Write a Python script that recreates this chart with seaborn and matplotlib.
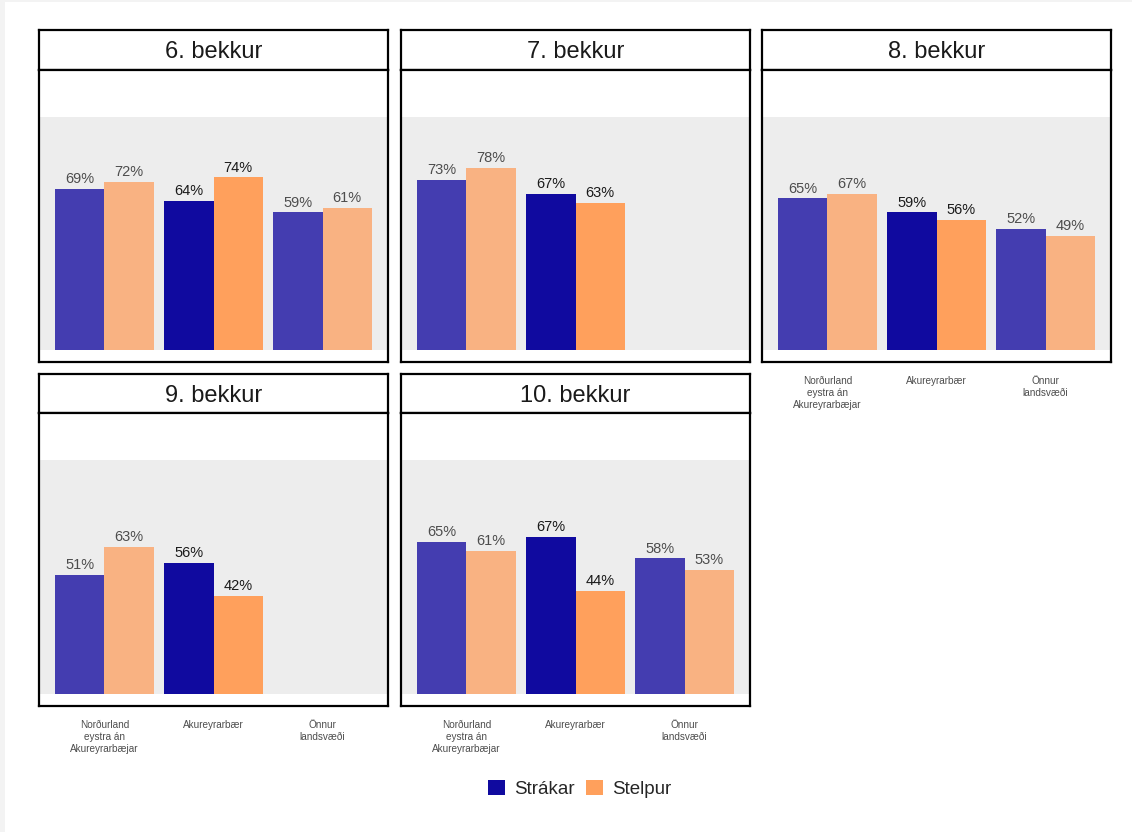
import matplotlib
matplotlib.use("Agg")
import matplotlib.pyplot as plt
from matplotlib.patches import Rectangle, Patch
import numpy as np
import pandas as pd
import seaborn as sns

# data (percent, boys / girls per region and grade)
grades = ["6. bekkur", "7. bekkur", "8. bekkur", "9. bekkur", "10. bekkur"]
regions = ["Norðurland\neystra án\nAkureyrarbæjar", "Akureyrarbær", "Önnur\nlandsvæði"]
genders = ["Strákar", "Stelpur"]
strakar = [[69, 64, 59], [73, 67, None], [65, 59, 52], [51, 56, None], [65, 67, 58]]
stelpur = [[72, 74, 61], [78, 63, None], [67, 56, 49], [63, 42, None], [61, 44, 53]]

dark = {"Strákar": "#100a9f", "Stelpur": "#ffa05c"}
light = {"Strákar": "#443db0", "Stelpur": "#f9b282"}
highlight = "Akureyrarbær"

rows = []
for g, grade in enumerate(grades):
    for r, region in enumerate(regions):
        for gender, vals in zip(genders, [strakar, stelpur]):
            v = vals[g][r]
            if v is not None:
                rows.append({"grade": grade, "region": region, "gender": gender, "value": v / 100})
df = pd.DataFrame(rows)

sns.set_style("white")
plt.rcParams["font.family"] = ["Liberation Sans", "DejaVu Sans"]

W, H = 1132, 832
fig = plt.figure(figsize=(W / 100, H / 100), dpi=100)
fig.patch.set_facecolor("#f3f3f3")
fig.patches.append(Rectangle((5 / W, 0), 1, 1 - 2 / H, transform=fig.transFigure,
                             facecolor="white", edgecolor="none", zorder=-10))

cols_x = [(39, 388), (401, 750), (762, 1111)]
rows_y = [(30, 70, 362), (374, 413, 706)]


def fx(px):
    return px / W


def fy(py):
    return 1 - py / H


for i, grade in enumerate(grades):
    c, r = i % 3, i // 3
    x0, x1 = cols_x[c]
    s0, s1, p1 = rows_y[r]

    # strip
    sax = fig.add_axes([fx(x0), fy(s1), fx(x1 - x0), (s1 - s0) / H])
    sax.set_xticks([])
    sax.set_yticks([])
    for sp in sax.spines.values():
        sp.set_visible(True)
        sp.set_color("black")
        sp.set_linewidth(1.6)
    sax.text(0.5, 0.44, grade, ha="center", va="center", fontsize=17, color="#1a1a1a",
             transform=sax.transAxes)

    # panel
    ax = fig.add_axes([fx(x0), fy(p1), fx(x1 - x0), (p1 - s1) / H])
    sub = df[df["grade"] == grade]
    sns.barplot(data=sub, x="region", y="value", hue="gender", order=regions,
                hue_order=genders, palette=dark, width=0.9, saturation=1,
                legend=False, ax=ax, zorder=3)
    ax.axhspan(0, 1, color="#ededed", zorder=0, lw=0)
    ax.set_xlim(-0.6, 2.6)
    ax.set_ylim(-0.05, 1.2)

    for gender, cont in zip(genders, ax.containers):
        for bar in cont:
            h = bar.get_height()
            if np.isnan(h):
                continue
            xc = bar.get_x() + bar.get_width() / 2
            region = regions[int(round(xc))]
            is_hi = region == highlight
            bar.set_facecolor(dark[gender] if is_hi else light[gender])
            bar.set_edgecolor("none")
            ax.text(xc, h + 0.012, f"{h * 100:.0f}%", ha="center", va="bottom",
                    fontsize=10.5, color="#1a1a1a" if is_hi else "#4d4d4d", zorder=4)

    ax.set_xlabel("")
    ax.set_ylabel("")
    ax.set_yticks([])
    show_x = grade in ["8. bekkur", "9. bekkur", "10. bekkur"]
    ax.tick_params(axis="x", length=0, pad=10)
    if show_x:
        ax.set_xticks(range(3))
        ax.set_xticklabels(regions, fontsize=7.2, color="#4d4d4d", linespacing=1.25)
    else:
        ax.set_xticks([])
    for sp in ax.spines.values():
        sp.set_visible(True)
        sp.set_color("black")
        sp.set_linewidth(1.6)

handles = [Patch(facecolor=dark[g], edgecolor="none", label=g) for g in genders]
fig.legend(handles=handles, loc="center", bbox_to_anchor=(fx(580), fy(789)), ncol=2,
           frameon=False, fontsize=13.5, handlelength=0.9, handleheight=0.9,
           handletextpad=0.5, columnspacing=0.6)

fig.savefig("out.png", dpi=100)
